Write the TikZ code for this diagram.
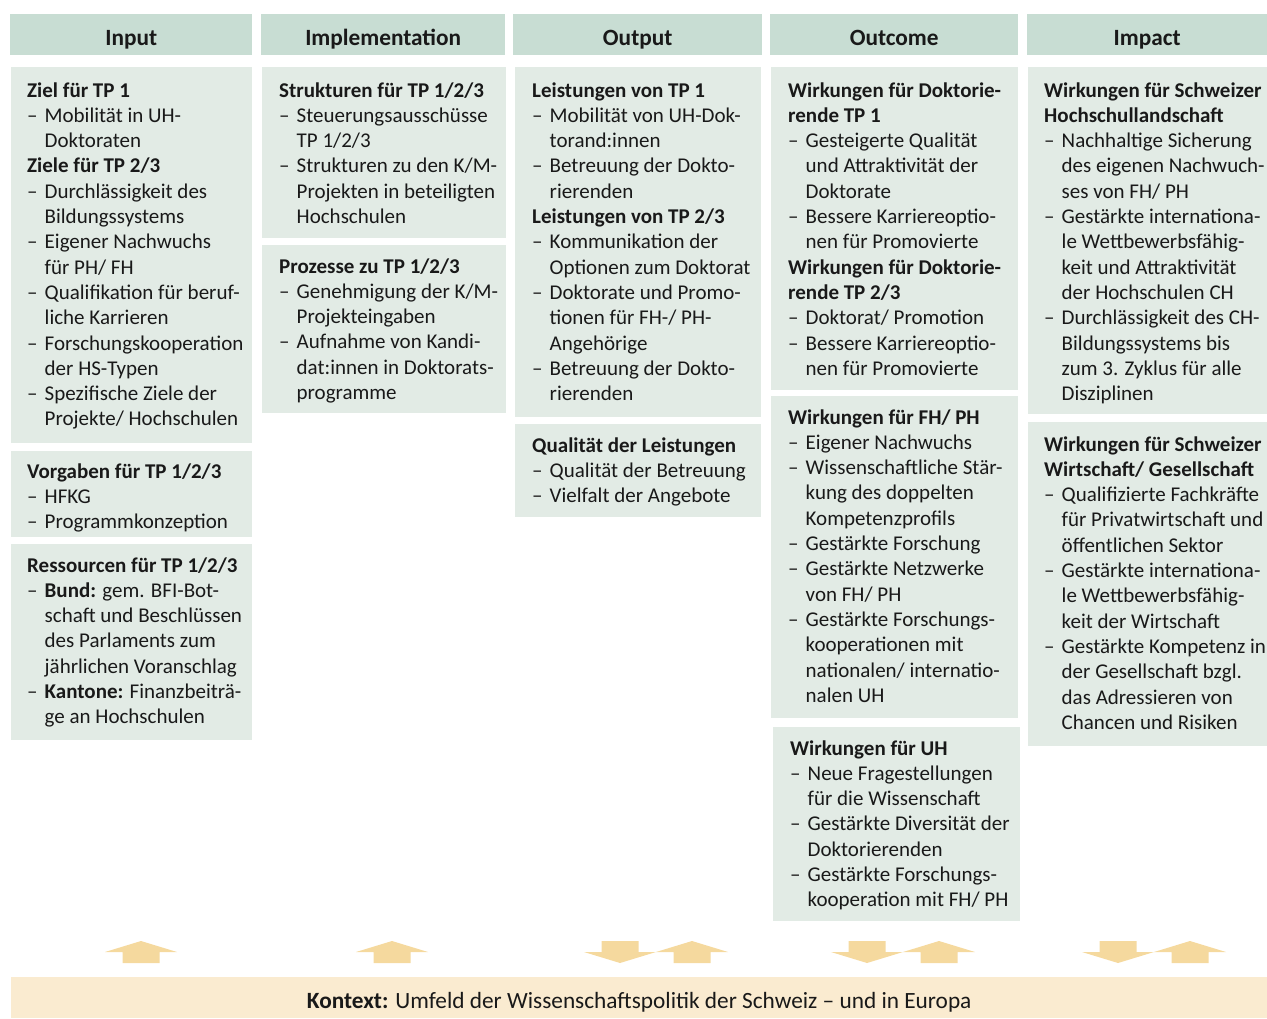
\documentclass[tikz,border=0pt]{standalone}
\usepackage{fontspec}
\setmainfont{Carlito}
\usepackage{array}
\definecolor{hdrgreen}{RGB}{200,221,211}
\definecolor{boxgreen}{RGB}{226,235,229}
\definecolor{ctxbg}{RGB}{250,235,208}
\definecolor{arrgold}{RGB}{245,217,158}
\definecolor{ink}{RGB}{25,25,25}
\newcommand\hd[1]{\multicolumn{2}{@{}l@{}}{\bfseries #1}\\}
\newcommand\li[1]{–&#1\\}
\newcommand\co[1]{&#1\\}
\newenvironment{blk}{\begin{tabular}[t]{@{}p{17.5pt}@{}l@{}}}{\end{tabular}}
\tikzset{
  hdr/.style={fill=hdrgreen, inner sep=0, anchor=north west, text=ink,
    text height=21pt, text depth=0pt,
    font=\fontsize{23.3pt}{28pt}\selectfont\bfseries},
  panel/.style={fill=boxgreen, inner sep=0, anchor=north west},
  txt/.style={inner sep=0, anchor=base west, text=ink,
    font=\fontsize{21pt}{25.3pt}\selectfont},
  blockarr/.style={fill=arrgold, draw=none}
}
\begin{document}
\begin{tikzpicture}[x=1pt,y=-1pt]
\useasboundingbox (0,0) rectangle (1267,1018);
% headers
\node[hdr, minimum width=242pt, minimum height=41pt] (hIn) at (10,14) {Input};
\node[hdr, minimum width=244pt, minimum height=41pt] (hImp) at (261,14) {Implementation};
\node[hdr, minimum width=249pt, minimum height=41pt] (hOut) at (513,14) {Output};
\node[hdr, minimum width=248pt, minimum height=41pt] (hOc) at (770,14) {Outcome};
\node[hdr, minimum width=240pt, minimum height=41pt] (hImpct) at (1027,14) {Impact};
% panels
\node[panel, minimum width=241pt, minimum height=376pt] (b11) at (11,67) {};
\node[panel, minimum width=241pt, minimum height=86pt] (b12) at (11,451) {};
\node[panel, minimum width=241pt, minimum height=196pt] (b13) at (11,544) {};
\node[panel, minimum width=244pt, minimum height=171pt] (b21) at (262,67) {};
\node[panel, minimum width=244pt, minimum height=168pt] (b22) at (262,245) {};
\node[panel, minimum width=246pt, minimum height=350pt] (b31) at (515,67) {};
\node[panel, minimum width=246pt, minimum height=93pt] (b32) at (515,424) {};
\node[panel, minimum width=247pt, minimum height=323pt] (b41) at (771,67) {};
\node[panel, minimum width=247pt, minimum height=322pt] (b42) at (771,396) {};
\node[panel, minimum width=247pt, minimum height=194pt] (b43) at (773,727) {};
\node[panel, minimum width=240pt, minimum height=347pt] (b51) at (1028,67) {};
\node[panel, minimum width=240pt, minimum height=324pt] (b52) at (1028,422) {};
% texts column 1
\node[txt] (t11) at (27,97) {\begin{blk}
\hd{Ziel für TP 1}
\li{Mobilität in UH-}
\co{Doktoraten}
\hd{Ziele für TP 2/3}
\li{Durchlässigkeit des}
\co{Bildungssystems}
\li{Eigener Nachwuchs}
\co{für PH/ FH}
\li{Qualifikation für beruf-}
\co{liche Karrieren}
\li{Forschungskooperation}
\co{der HS-Typen}
\li{Spezifische Ziele der}
\co{Projekte/ Hochschulen}
\end{blk}};
\node[txt] (t12) at (27,478) {\begin{blk}
\hd{Vorgaben für TP 1/2/3}
\li{HFKG}
\li{Programmkonzeption}
\end{blk}};
\node[txt] (t13) at (27,572) {\begin{blk}
\hd{Ressourcen für TP 1/2/3}
\li{\textbf{Bund:} gem. BFI-Bot-}
\co{schaft und Beschlüssen}
\co{des Parlaments zum}
\co{jährlichen Voranschlag}
\li{\textbf{Kantone:} Finanzbeiträ-}
\co{ge an Hochschulen}
\end{blk}};
% column 2
\node[txt] (t21) at (279,97) {\begin{blk}
\hd{Strukturen für TP 1/2/3}
\li{Steuerungsausschüsse}
\co{TP 1/2/3}
\li{Strukturen zu den K/M-}
\co{Projekten in beteiligten}
\co{Hochschulen}
\end{blk}};
\node[txt] (t22) at (279,273) {\begin{blk}
\hd{Prozesse zu TP 1/2/3}
\li{Genehmigung der K/M-}
\co{Projekteingaben}
\li{Aufnahme von Kandi-}
\co{dat:innen in Doktorats-}
\co{programme}
\end{blk}};
% column 3
\node[txt] (t31) at (532,97) {\begin{blk}
\hd{Leistungen von TP 1}
\li{Mobilität von UH-Dok-}
\co{torand:innen}
\li{Betreuung der Dokto-}
\co{rierenden}
\hd{Leistungen von TP 2/3}
\li{Kommunikation der}
\co{Optionen zum Doktorat}
\li{Doktorate und Promo-}
\co{tionen für FH-/ PH-}
\co{Angehörige}
\li{Betreuung der Dokto-}
\co{rierenden}
\end{blk}};
\node[txt] (t32) at (532,452) {\begin{blk}
\hd{Qualität der Leistungen}
\li{Qualität der Betreuung}
\li{Vielfalt der Angebote}
\end{blk}};
% column 4
\node[txt] (t41) at (788,97) {\begin{blk}
\hd{Wirkungen für Doktorie-}
\hd{rende TP 1}
\li{Gesteigerte Qualität}
\co{und Attraktivität der}
\co{Doktorate}
\li{Bessere Karriereoptio-}
\co{nen für Promovierte}
\hd{Wirkungen für Doktorie-}
\hd{rende TP 2/3}
\li{Doktorat/ Promotion}
\li{Bessere Karriereoptio-}
\co{nen für Promovierte}
\end{blk}};
\node[txt] (t42) at (788,424) {\begin{blk}
\hd{Wirkungen für FH/ PH}
\li{Eigener Nachwuchs}
\li{Wissenschaftliche Stär-}
\co{kung des doppelten}
\co{Kompetenzprofils}
\li{Gestärkte Forschung}
\li{Gestärkte Netzwerke}
\co{von FH/ PH}
\li{Gestärkte Forschungs-}
\co{kooperationen mit}
\co{nationalen/ internatio-}
\co{nalen UH}
\end{blk}};
\node[txt] (t43) at (790,755) {\begin{blk}
\hd{Wirkungen für UH}
\li{Neue Fragestellungen}
\co{für die Wissenschaft}
\li{Gestärkte Diversität der}
\co{Doktorierenden}
\li{Gestärkte Forschungs-}
\co{kooperation mit FH/ PH}
\end{blk}};
% column 5
\node[txt] (t51) at (1044,97) {\begin{blk}
\hd{Wirkungen für Schweizer}
\hd{Hochschullandschaft}
\li{Nachhaltige Sicherung}
\co{des eigenen Nachwuch-}
\co{ses von FH/ PH}
\li{Gestärkte internationa-}
\co{le Wettbewerbsfähig-}
\co{keit und Attraktivität}
\co{der Hochschulen CH}
\li{Durchlässigkeit des CH-}
\co{Bildungssystems bis}
\co{zum 3. Zyklus für alle}
\co{Disziplinen}
\end{blk}};
\node[txt] (t52) at (1044,451) {\begin{blk}
\hd{Wirkungen für Schweizer}
\hd{Wirtschaft/ Gesellschaft}
\li{Qualifizierte Fachkräfte}
\co{für Privatwirtschaft und}
\co{öffentlichen Sektor}
\li{Gestärkte internationa-}
\co{le Wettbewerbsfähig-}
\co{keit der Wirtschaft}
\li{Gestärkte Kompetenz in}
\co{der Gesellschaft bzgl.}
\co{das Adressieren von}
\co{Chancen und Risiken}
\end{blk}};
% context bar
\node[fill=ctxbg, inner sep=0, anchor=north west, minimum width=1256pt, minimum height=41pt,
  text=ink, text height=21pt, text depth=0pt,
  font=\fontsize{23.3pt}{28pt}\selectfont] (ctx) at (11,977)
  {\textbf{Kontext:} Umfeld der Wissenschaftspolitik der Schweiz – und in Europa};
% block arrows: up arrows
\foreach \cx in {141,392,692,939,1190}{
  \fill[blockarr] (\cx,941) -- (\cx+36,952) -- (\cx+18.5,952) -- (\cx+18.5,963)
    -- (\cx-18.5,963) -- (\cx-18.5,952) -- (\cx-36,952) -- cycle;
}
% down arrows
\foreach \cx in {620,867,1118}{
  \fill[blockarr] (\cx,963) -- (\cx+36,952) -- (\cx+18.5,952) -- (\cx+18.5,941)
    -- (\cx-18.5,941) -- (\cx-18.5,952) -- (\cx-36,952) -- cycle;
}
\end{tikzpicture}
\end{document}
